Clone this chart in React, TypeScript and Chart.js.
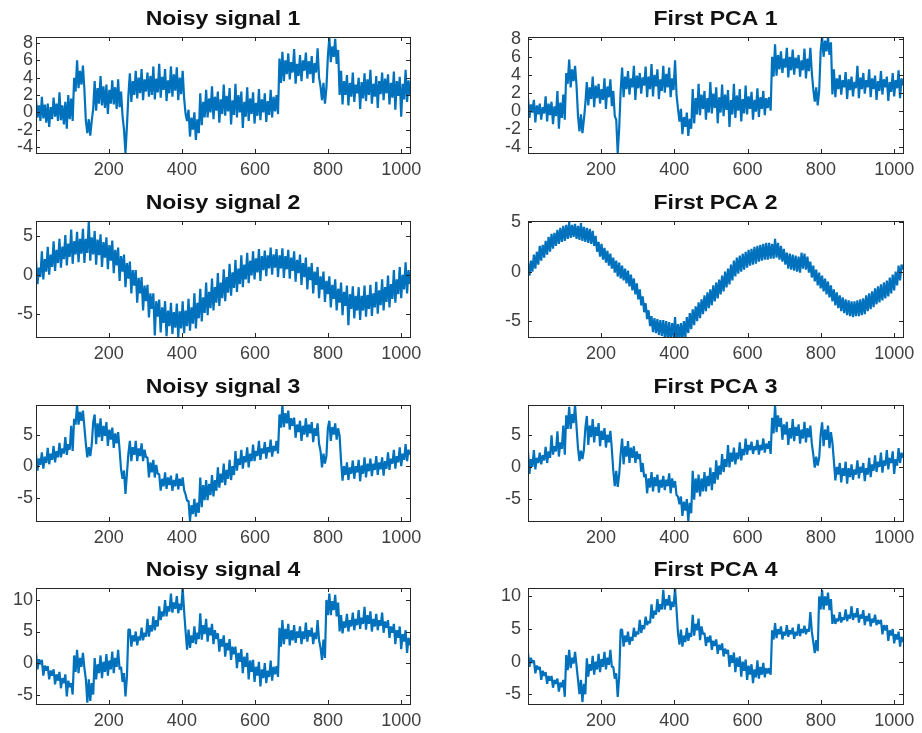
import React, { useEffect, useRef } from 'react';
import { Chart, registerables } from 'chart.js';

Chart.register(...registerables);

// ---------------- data ----------------
const xMin = 1;
const xMax = 1024;
const xTickValues = [200, 400, 600, 800, 1000];

const yTicksRow1 = [-4, -2, 0, 2, 4, 6, 8];
const yTicksRow2 = [-5, 0, 5];
const yTicksRow3 = [-5, 0, 5];
const yTicksRow4 = [-5, 0, 5, 10];

const titles = [
  'Noisy signal 1', 'First PCA 1',
  'Noisy signal 2', 'First PCA 2',
  'Noisy signal 3', 'First PCA 3',
  'Noisy signal 4', 'First PCA 4',
];

// noise-band samples read along x = 1..1024 (upper / lower excursions alternate)
const noisy1 = [
  1.5,-0.6,0.8,-1.0, 1.8,-0.7,0.9,-1.2, 1.0,-1.7,0.6,-0.8, 1.7,-0.5,1.0,-1.0,
  2.3,-0.9,0.8,-1.4, 1.2,-1.9,2.0,-0.8, 1.6,-1.0,4.0,2.4, 6.0,2.8,4.8,3.2,
  5.4,2.6,-1.0,-2.4, -0.8,-2.7,-1.0,0.4, 3.6,0.2,2.8,1.0, 4.2,0.8,3.0,0.5,
  3.2,-0.2,2.6,1.0, 3.7,0.9,2.9,0.4, 3.8,0.6,2.4,-0.4, -2.0,-4.7,-1.6,2.0,
  4.5,1.2,3.6,2.0, 4.8,1.6,4.0,2.2, 5.0,1.4,3.8,2.4, 4.6,1.8,4.2,2.0,
  5.3,1.5,3.9,2.3, 5.6,1.7,4.1,2.6, 5.0,1.3,3.7,2.2, 5.3,1.8,4.4,2.5,
  5.2,1.4,4.0,2.1, 4.8,1.6,-0.2,-1.0, 0.3,-2.8,-0.6,-2.0, 0.0,-3.2,-0.8,-2.4,
  2.2,-1.5,1.2,-0.6, 2.6,-0.6,1.6,0.0, 3.0,-0.8,1.8,0.2, 2.4,-1.2,1.5,-0.2,
  3.2,-0.4,1.9,0.1, 2.8,-1.4,1.4,-0.3, 3.3,-0.6,2.0,0.0, 2.4,-1.8,1.2,-0.5,
  2.9,-1.0,1.6,-0.2, 2.3,-1.3,1.1,-0.4, 2.7,-0.9,1.5,0.0, 2.2,-1.1,1.3,-0.3,
  2.6,-0.6,1.8,0.1, 2.0,-0.2,6.2,3.4, 7.0,3.6,6.0,4.4, 6.8,3.8,5.8,4.6,
  7.3,3.3,5.6,4.2, 6.6,3.6,6.0,4.8, 6.9,3.9,5.9,4.4, 6.5,3.4,5.7,4.6,
  7.4,4.0,3.0,1.4, 3.4,1.0,2.8,6.4, 8.7,5.8,7.6,6.4, 8.5,5.6,7.2,2.0,
  4.8,0.9,3.6,2.0, 4.3,0.8,3.4,1.8, 4.6,1.2,3.2,2.2, 4.0,0.4,3.5,1.6,
  4.5,1.3,3.8,2.0, 4.9,1.0,3.3,1.8, 4.2,0.5,3.6,2.1, 4.6,1.4,3.9,2.2,
  4.4,0.9,3.4,1.7, 4.7,0.3,3.6,1.9, 4.1,-0.5,3.3,1.5, 4.9,1.2,3.7,2.0,
];

const pca1 = [
  1.4,-0.8,0.7,-0.2, 1.2,-1.3,0.6,-0.4, 0.8,-1.0,0.4,-0.3, 1.6,-1.2,0.8,-0.5,
  1.0,-1.5,0.5,-0.6, 2.2,-2.0,0.9,-0.8, 1.8,-1.0,4.2,3.0, 5.7,2.6,4.6,3.3,
  5.0,2.8,-0.6,-2.3, -0.4,-2.5,-1.0,0.8, 3.2,0.6,2.6,1.3, 3.8,0.4,2.8,1.4,
  3.0,0.8,2.4,1.2, 3.6,0.2,2.7,1.5, 3.5,0.5,2.2,-0.6, -1.0,-4.7,-2.0,2.2,
  4.8,1.5,3.8,2.4, 4.4,1.8,3.6,2.6, 5.0,1.2,3.9,2.5, 4.2,1.9,3.7,2.8,
  4.9,1.5,3.8,2.4, 5.2,1.6,4.0,2.7, 4.6,1.3,3.5,2.2, 5.0,2.0,4.1,2.6,
  4.8,1.5,3.6,2.3, 5.6,1.8,0.2,-1.2, 0.2,-2.6,-0.7,-1.8, -0.2,-2.8,-0.9,-2.0,
  2.4,-1.4,1.4,-0.4, 3.0,-0.5,1.8,0.2, 2.2,-1.0,1.4,-0.2, 3.2,-0.3,1.9,0.3,
  2.6,-1.4,1.5,-0.2, 2.9,-0.6,1.8,0.1, 2.3,-1.8,1.2,-0.4, 3.0,-0.8,1.7,0.0,
  2.4,-1.2,1.3,-0.3, 2.8,-0.4,1.6,0.2, 2.1,-1.0,1.2,-0.1, 2.5,-0.7,1.5,0.2,
  2.2,-0.5,1.4,0.3, 1.5,0.0,6.0,3.8, 7.4,3.9,6.2,4.6, 6.6,4.2,5.8,4.8,
  7.0,3.7,6.0,4.5, 6.8,4.0,5.9,4.7, 6.2,3.8,5.6,4.5, 6.9,3.6,5.8,4.4,
  7.0,4.2,2.4,1.0, 2.6,0.6,2.2,6.6, 8.2,6.0,7.8,6.6, 8.2,6.2,7.6,1.8,
  4.6,1.5,3.6,2.4, 4.0,1.8,3.4,2.6, 4.3,1.3,3.5,2.3, 3.8,1.6,3.2,2.5,
  5.0,1.4,3.7,2.4, 4.2,1.9,3.4,2.6, 4.6,1.5,3.6,2.4, 3.9,1.2,3.3,2.2,
  4.4,1.8,3.5,2.6, 3.8,1.1,3.2,2.1, 4.2,1.6,3.4,2.5, 4.5,1.4,3.6,2.8,
];

const noisy2 = [
  1.9,-1.2,0.9,-0.3, 3.0,-0.6,2.0,0.4, 3.6,0.0,2.6,1.0, 4.3,0.5,3.2,1.5,
  4.6,0.9,3.6,2.0, 5.1,1.2,4.0,2.3, 5.8,1.4,4.3,2.6, 5.5,1.6,4.6,2.7,
  5.9,1.5,4.6,2.8, 6.9,1.8,4.8,2.6, 5.6,1.3,4.5,2.5, 5.2,1.0,4.2,2.2,
  4.8,0.7,3.8,1.8, 4.4,0.2,3.2,1.2, 3.5,-0.8,2.4,0.4, 2.6,-1.6,1.5,-0.5,
  1.7,-2.4,0.6,-1.4, 0.6,-3.6,-0.4,-2.4, -0.3,-4.6,-1.4,-3.4, -1.3,-5.5,-2.4,-4.4,
  -2.4,-7.8,-3.4,-5.4, -3.2,-7.4,-4.2,-6.2, -3.4,-7.9,-4.6,-6.6, -3.6,-7.6,-4.8,-6.8,
  -3.7,-8.0,-4.7,-6.9, -3.4,-7.5,-4.6,-6.6, -3.1,-7.2,-4.2,-6.3, -2.4,-6.9,-3.6,-5.6,
  -1.8,-6.0,-2.9,-4.9, -1.0,-5.2,-2.2,-4.3, -0.5,-4.6,-1.6,-3.6, 0.2,-4.0,-1.0,-3.0,
  0.7,-3.4,-0.3,-2.3, 1.4,-2.7,0.3,-1.7, 1.9,-2.2,0.8,-1.2, 2.5,-1.6,1.3,-0.6,
  2.8,-1.1,1.8,-0.1, 3.0,-0.6,2.1,0.3, 3.3,-0.8,2.4,0.6, 3.1,-0.2,2.5,0.8,
  3.5,0.0,2.6,0.9, 3.3,-0.3,2.5,0.8, 3.4,-0.4,2.4,0.7, 3.2,-0.5,2.2,0.5,
  3.0,-0.9,1.9,0.2, 2.6,-1.3,1.5,-0.3, 2.2,-1.9,1.0,-0.7, 1.5,-2.4,0.4,-1.3,
  1.0,-3.0,-0.2,-1.9, 0.4,-3.5,-0.8,-2.5, -0.2,-4.2,-1.3,-3.1, -0.6,-4.6,-1.8,-3.6,
  -1.0,-5.2,-2.2,-4.0, -1.4,-6.5,-2.5,-4.4, -1.5,-5.6,-2.7,-4.6, -1.6,-5.8,-2.7,-4.6,
  -1.4,-5.4,-2.6,-4.4, -1.3,-5.3,-2.4,-4.2, -0.9,-5.0,-2.0,-3.9, -0.6,-4.6,-1.6,-3.5,
  -0.1,-4.2,-1.2,-3.1, 0.6,-3.6,-0.6,-2.5, 1.0,-3.0,0.0,-1.9, 1.6,-2.4,0.6,-1.2,
];

const pca2 = [
  0.9,-0.4,1.1,0.0, 1.7,0.3,2.0,0.7, 2.6,1.1,2.7,1.4, 3.1,1.7,3.5,2.0,
  3.8,2.3,3.9,2.6, 4.2,2.8,4.4,3.0, 4.6,3.1,4.7,3.3, 5.0,3.4,4.7,3.5,
  4.8,3.3,4.6,3.2, 4.9,3.1,4.5,3.0, 4.4,2.9,4.3,2.8, 4.1,2.6,3.6,2.0,
  3.0,1.5,2.8,1.2, 2.4,0.9,2.1,0.6, 1.8,0.3,1.4,-0.1, 1.1,-0.5,0.9,-0.7,
  0.6,-0.9,0.3,-1.2, 0.1,-1.5,-0.3,-1.9, -0.7,-2.3,-1.2,-2.8, -1.8,-3.4,-2.5,-4.1,
  -3.2,-4.8,-3.9,-5.5, -4.5,-6.1,-4.7,-6.2, -4.8,-6.4,-4.9,-6.5, -4.9,-6.7,-5.0,-6.8,
  -5.1,-6.9,-5.2,-6.6, -4.6,-7.0,-5.3,-6.8, -5.2,-6.9,-5.0,-6.6, -4.6,-6.2,-4.2,-5.8,
  -3.8,-5.4,-3.5,-5.0, -3.1,-4.7,-2.8,-4.3, -2.4,-4.0,-2.1,-3.7, -1.8,-3.4,-1.4,-3.0,
  -1.1,-2.7,-0.8,-2.3, -0.4,-2.0,0.0,-1.6, 0.3,-1.3,0.7,-0.9, 1.1,-0.5,1.4,-0.2,
  1.6,0.0,1.8,0.2, 2.0,0.4,2.2,0.6, 2.3,0.7,2.5,0.8, 2.6,1.0,2.7,1.1,
  2.8,1.2,2.9,1.2, 2.9,1.3,2.8,1.3, 3.3,1.4,2.9,1.2, 2.6,1.0,2.3,0.7,
  1.9,0.3,1.8,0.2, 1.7,0.1,1.6,0.0, 1.5,-0.1,1.9,0.3, 1.8,0.2,1.5,-0.1,
  1.0,-0.6,0.6,-1.0, 0.2,-1.4,-0.1,-1.7, -0.4,-2.0,-0.7,-2.3, -1.0,-2.6,-1.4,-3.0,
  -1.8,-3.4,-2.1,-3.7, -2.4,-4.0,-2.6,-4.2, -2.8,-4.4,-2.9,-4.5, -3.0,-4.6,-3.0,-4.5,
  -2.9,-4.5,-2.8,-4.4, -2.7,-4.3,-2.4,-4.0, -2.2,-3.8,-2.0,-3.6, -1.7,-3.3,-1.5,-3.1,
  -1.3,-2.9,-1.1,-2.7, -0.9,-2.5,-0.6,-2.2, -0.3,-1.9,0.0,-1.4, 0.6,-0.9,0.7,0.2,
];

const noisy3 = [
  1.9,-0.7,1.2,0.2, 2.2,-0.4,1.5,0.5, 2.9,0.3,2.0,1.0, 3.2,0.6,2.4,1.4,
  3.7,1.4,2.8,2.0, 4.6,1.8,3.5,2.6, 6.4,2.4,7.5,6.6, 9.7,6.6,8.6,7.2,
  8.8,6.2,3.5,1.4, 3.0,1.6,3.4,7.0, 8.2,3.5,6.8,4.6, 7.6,4.0,6.4,4.8,
  7.0,3.2,5.8,4.2, 6.1,2.9,5.2,3.6, 5.4,2.6,-0.5,-2.0, -0.7,-4.4,-1.2,2.0,
  4.0,0.8,3.0,1.8, 4.0,0.8,2.8,1.6, 3.6,0.8,2.6,1.4, 1.4,-1.8,0.6,-1.0,
  1.0,-1.8,0.2,-1.2, -1.3,-3.9,-2.0,-3.2, -1.0,-3.6,-1.8,-3.0, -1.5,-3.9,-2.2,-3.2,
  -1.2,-3.7,-2.0,-3.1, -1.8,-3.8,-4.5,-5.5, -5.5,-8.7,-6.2,-7.6, -5.2,-8.0,-5.8,-7.4,
  -1.8,-6.5,-3.0,-5.4, -2.2,-5.4,-2.8,-4.6, -1.4,-4.8,-2.2,-3.9, -0.2,-3.4,-1.2,-2.6,
  0.4,-3.0,-0.6,-2.0, 1.0,-2.2,0.0,-1.4, 2.4,-0.7,1.2,0.2, 2.6,-0.4,1.6,0.6,
  3.0,-0.2,2.0,0.8, 3.4,0.8,2.4,1.6, 4.0,1.0,2.8,2.0, 3.8,1.2,3.0,2.2,
  4.2,1.5,3.2,2.4, 4.0,2.0,8.2,6.1, 9.7,6.2,8.4,6.8, 8.8,5.8,7.6,6.4,
  7.7,4.5,6.6,5.4, 7.2,4.0,6.4,5.0, 7.6,4.6,6.6,5.2, 7.0,3.8,6.0,4.8,
  6.8,3.5,2.4,-0.2, 2.0,0.4,1.6,6.0, 7.2,4.0,6.2,5.0, 6.8,4.2,6.0,4.8,
  0.8,-2.3,0.0,-1.4, 0.6,-2.2,-0.2,-1.2, 0.9,-2.0,0.0,-1.0, 1.0,-2.4,0.1,-1.2,
  1.4,-1.8,0.4,-0.8, 1.2,-1.6,0.4,-0.6, 1.6,-1.4,0.6,-0.5, 1.4,-1.5,0.8,-0.4,
  2.2,-0.6,1.2,0.4, 2.6,-0.4,1.6,0.6, 3.0,0.0,2.0,1.0, 3.5,0.8,2.6,1.8,
];

const pca3 = [
  2.4,-1.1,1.2,0.0, 2.6,-0.4,1.4,0.6, 2.2,0.4,1.8,1.0, 3.1,0.6,2.4,1.4,
  4.9,1.9,3.2,2.4, 5.5,1.6,3.8,2.8, 6.4,1.9,8.0,5.9, 9.3,5.9,8.2,6.8,
  9.6,6.2,2.9,0.9, 2.5,1.2,2.6,6.0, 7.9,3.4,6.4,4.6, 7.4,3.8,6.2,4.8,
  6.8,3.2,5.6,4.2, 6.0,3.0,5.0,3.8, 5.6,2.8,-0.6,-3.0, -0.6,-3.1,-1.2,2.0,
  4.4,0.4,3.2,1.6, 4.0,0.6,3.0,1.4, 3.2,0.6,2.4,1.2, 2.0,-0.8,0.6,-1.6,
  -1.1,-4.1,-1.8,-3.2, -0.8,-3.8,-1.6,-3.0, -1.2,-4.0,-2.0,-3.2, -1.4,-3.6,-2.0,-3.0,
  -1.0,-4.1,-1.8,-3.2, -2.2,-4.4,-4.6,-5.8, -4.6,-7.6,-5.4,-6.8, -5.0,-8.4,-5.6,-7.2,
  -0.6,-5.1,-1.8,-4.0, -1.2,-4.6,-1.8,-3.8, -0.8,-3.8,-1.4,-3.0, -0.1,-3.6,-0.8,-2.6,
  1.0,-2.0,0.2,-1.2, 2.0,-0.8,1.2,0.0, 3.4,-0.1,2.2,0.8, 3.0,0.4,2.2,1.2,
  3.8,1.0,2.8,1.8, 4.4,1.9,3.4,2.6, 3.9,2.0,3.2,2.6, 4.2,1.9,3.4,2.6,
  4.4,2.2,3.6,2.8, 4.0,2.0,7.6,5.2, 9.6,5.4,8.0,6.2, 7.6,4.2,6.6,5.0,
  7.0,3.4,6.0,4.4, 7.4,4.0,6.2,4.8, 6.6,3.6,5.8,4.4, 7.0,3.8,6.0,4.6,
  6.4,3.6,1.9,-0.1, 1.6,0.2,1.4,5.0, 6.9,3.2,5.8,4.2, 6.4,2.9,5.4,3.8,
  0.9,-2.1,0.0,-1.2, 0.6,-2.4,-0.2,-1.4, 0.8,-2.6,-0.2,-1.6, 0.4,-2.0,-0.4,-1.2,
  1.0,-1.8,0.0,-0.9, 0.6,-2.2,-0.2,-1.2, 1.4,-1.6,0.4,-0.6, 1.8,-0.8,0.8,0.0,
  2.2,-0.9,1.0,0.2, 2.6,-0.4,1.4,0.6, 2.4,-1.1,1.2,0.2, 2.9,0.6,2.2,1.4,
];

const noisy4 = [
  1.6,-1.0,0.6,-0.2, 0.5,-2.0,-0.4,-1.2, -0.5,-2.6,-1.2,-2.0, -1.0,-3.4,-1.8,-2.8,
  -1.4,-4.0,-2.4,-3.2, -1.8,-5.3,-2.8,-3.8, -3.2,-5.0,1.2,-1.4, 2.1,-1.6,0.8,-0.6,
  1.6,-0.8,-2.6,-6.3, -2.6,-6.0,-3.2,-5.0, 0.8,-2.6,-0.2,-1.6, 1.2,-2.4,0.2,-1.4,
  1.4,-2.0,0.4,-1.0, 1.8,-1.6,0.8,-0.6, 2.1,-1.0,-0.6,-3.0, -1.6,-5.3,-2.2,5.3,
  5.3,2.6,4.4,3.4, 5.0,2.8,4.2,3.6, 5.6,3.6,4.8,4.2, 7.0,4.2,6.0,5.0,
  7.4,5.2,6.8,5.8, 9.0,6.8,8.2,7.4, 10.0,7.4,9.0,8.2, 11.0,8.0,9.6,8.6,
  10.6,7.9,9.4,8.4, 11.9,8.2,5.0,2.1, 5.3,2.4,4.4,3.2, 5.8,3.0,4.8,3.8,
  7.9,3.7,6.0,4.6, 7.0,3.4,5.6,4.4, 6.2,3.0,5.2,3.8, 4.7,1.8,3.8,2.6,
  4.4,1.0,3.2,2.0, 3.8,0.5,2.6,1.4, 2.6,-0.8,1.6,0.2, 2.2,-1.6,1.0,-0.6,
  1.6,-2.6,0.4,-1.4, 0.5,-3.0,-0.6,-2.0, 0.2,-3.7,-1.0,-2.4, 0.0,-3.2,-1.2,-2.2,
  0.4,-2.8,-0.6,-1.8, -0.5,-2.2,5.6,2.6, 6.8,3.0,5.4,3.8, 6.2,2.8,5.2,3.6,
  6.0,3.2,5.0,4.0, 5.8,3.0,5.0,3.8, 6.4,3.4,5.2,4.2, 5.6,3.0,4.8,3.8,
  6.8,3.6,2.4,0.5, 3.7,0.8,10.0,7.6, 11.0,7.6,9.8,8.4, 10.8,7.4,9.6,5.0,
  7.6,4.7,6.6,5.6, 7.8,5.0,6.8,5.8, 8.0,5.2,7.0,6.0, 8.4,5.4,7.2,6.2,
  8.9,5.3,7.6,6.2, 8.2,5.0,7.0,5.8, 7.8,5.2,6.8,5.9, 8.0,4.8,6.6,5.6,
  6.8,4.0,5.8,4.8, 6.2,3.0,5.2,4.0, 5.8,2.2,4.6,3.4, 5.2,1.6,4.0,2.8,
];

const pca4 = [
  1.3,-0.8,0.6,-0.2, 0.2,-1.8,-0.6,-1.2, -0.8,-2.8,-1.4,-2.2, -1.6,-3.4,-2.2,-2.9,
  -2.2,-4.0,-2.8,-3.4, -2.6,-4.6,-3.2,-3.9, -2.8,-5.4,1.0,-1.3, 1.8,-1.0,0.6,-0.3,
  1.5,-0.6,-2.8,-5.0, -2.8,-6.2,-3.4,-5.0, 0.5,-2.3,-0.4,-1.4, 0.9,-2.0,0.0,-1.2,
  1.2,-1.6,0.4,-0.8, 1.5,-1.2,0.6,-0.5, 1.8,-0.8,-0.8,-2.6, -1.8,-5.4,-2.4,4.9,
  4.9,2.3,4.0,3.0, 4.6,2.6,3.8,3.2, 5.2,3.8,4.6,4.2, 6.4,4.4,5.6,5.0,
  6.9,5.6,6.2,5.9, 8.8,6.6,7.8,7.2, 9.6,7.6,8.8,8.0, 11.0,8.0,9.6,8.6,
  10.2,7.9,9.2,8.4, 11.3,8.0,4.4,2.6, 4.9,2.3,4.0,3.0, 5.2,3.2,4.4,3.8,
  7.2,4.0,5.8,4.8, 6.6,3.3,5.4,4.2, 4.4,2.4,3.8,3.0, 4.0,1.8,3.2,2.4,
  3.4,1.2,2.6,1.8, 2.8,0.8,2.0,1.2, 1.8,-0.8,1.0,-0.2, 1.4,-1.6,0.6,-0.8,
  0.8,-2.3,0.0,-1.4, 0.3,-2.8,-0.6,-2.0, -0.4,-3.3,-1.2,-2.4, 0.2,-2.6,-0.8,-2.0,
  -0.2,-2.4,-1.0,-1.8, -1.0,-2.0,4.8,3.4, 5.9,3.6,5.0,4.2, 5.4,3.4,4.6,4.0,
  5.6,3.8,4.8,4.2, 5.2,3.5,4.6,4.0, 5.8,3.9,5.0,4.4, 5.5,4.2,5.0,4.6,
  7.6,4.6,3.0,1.3, 3.3,1.6,10.0,8.0, 11.0,8.0,10.0,8.6, 10.6,7.9,9.6,5.8,
  7.2,5.8,6.6,6.2, 7.6,6.0,6.8,6.4, 8.0,6.2,7.2,6.6, 8.5,6.4,7.4,6.8,
  8.2,6.0,7.2,6.6, 7.9,5.6,7.0,6.2, 7.4,5.4,6.6,6.0, 7.2,5.6,6.4,5.8,
  6.4,4.2,5.6,4.8, 5.6,3.2,4.8,4.0, 5.0,2.8,4.2,3.4, 4.6,2.3,3.8,3.0,
];

const seriesList = [noisy1, pca1, noisy2, pca2, noisy3, pca3, noisy4, pca4];
const yLimits = [
  [-4.7, 8.7], [-4.7, 8.2],
  [-8.0, 6.9], [-6.6, 5.1],
  [-8.7, 9.7], [-8.4, 9.6],
  [-6.5, 11.9], [-6.5, 11.3],
];
const yTickSets = [yTicksRow1, yTicksRow1, yTicksRow2, yTicksRow2, yTicksRow3, yTicksRow3, yTicksRow4, yTicksRow4];

// ---------------- layout / style ----------------
const FONT = '"Liberation Sans", Arial, Helvetica, sans-serif';
const LINE_COLOR = '#0072BD';
const AXIS_COLOR = '#262626';
const TICK_COLOR = '#404040';
const ROW_TOPS = [37, 221, 405, 588];
const PLOT_H = 116;
const TITLE_H = 37;
const XAXIS_H = 29;
const COL_CANVAS_LEFT = [0, 461];
const COL_CANVAS_W = [460, 461];
const COL_PLOT_LEFT = [36, 528];
const COL_PLOT_RIGHT = [410, 903];
const COL_YPAD = [3, 7];

const decor = {
  id: 'decor',
  afterDatasetsDraw(chart: any, _args: any, opts: any) {
    const { ctx, chartArea: a, scales } = chart;
    ctx.save();
    ctx.strokeStyle = AXIS_COLOR;
    ctx.lineWidth = 1;
    const L = 4;
    ctx.beginPath();
    for (const t of scales.x.ticks) {
      const px = Math.round(scales.x.getPixelForValue(t.value)) + 0.5;
      ctx.moveTo(px, a.bottom);
      ctx.lineTo(px, a.bottom - L);
      ctx.moveTo(px, a.top);
      ctx.lineTo(px, a.top + L);
    }
    for (const t of scales.y.ticks) {
      const py = Math.round(scales.y.getPixelForValue(t.value)) + 0.5;
      ctx.moveTo(a.left, py);
      ctx.lineTo(a.left + L, py);
      ctx.moveTo(a.right, py);
      ctx.lineTo(a.right - L, py);
    }
    ctx.stroke();
    ctx.strokeRect(Math.round(a.left) + 0.5, Math.round(a.top) + 0.5,
      Math.round(a.right - a.left), Math.round(a.bottom - a.top));
    // title
    ctx.fillStyle = '#111';
    ctx.font = `bold 20px ${FONT}`;
    ctx.textAlign = 'center';
    ctx.textBaseline = 'middle';
    ctx.translate((a.left + a.right) / 2, 19);
    ctx.scale(1.15, 1);
    ctx.fillText(opts.text, 0, 0);
    ctx.restore();
  },
};

function Panel({ index }: { index: number }) {
  const ref = useRef<HTMLCanvasElement>(null);
  const col = index % 2;
  const row = Math.floor(index / 2);
  const canvasTop = ROW_TOPS[row] - TITLE_H;
  const canvasH = TITLE_H + PLOT_H + XAXIS_H;
  const canvasLeft = COL_CANVAS_LEFT[col];
  const canvasW = COL_CANVAS_W[col];

  useEffect(() => {
    const values = seriesList[index];
    const n = values.length;
    const data = values.map((v, i) => ({ x: xMin + (i * (xMax - xMin)) / (n - 1), y: v }));
    const yWidth = COL_PLOT_LEFT[col] - canvasLeft;
    const padRight = canvasLeft + canvasW - COL_PLOT_RIGHT[col];
    const [yMin, yMax] = yLimits[index];
    const yTicks = yTickSets[index];
    const chart = new Chart(ref.current as HTMLCanvasElement, {
      type: 'line',
      data: {
        datasets: [{
          data,
          borderColor: LINE_COLOR,
          borderWidth: 2.2,
          borderJoinStyle: 'bevel',
          borderCapStyle: 'butt',
          pointRadius: 0,
          tension: 0,
          fill: false,
        }],
      },
      options: {
        responsive: false,
        animation: false,
        devicePixelRatio: 1,
        events: [],
        layout: { padding: { left: 0, right: padRight, top: TITLE_H, bottom: 0 } },
        plugins: {
          legend: { display: false },
          tooltip: { enabled: false },
          decor: { text: titles[index] },
        } as any,
        scales: {
          x: {
            type: 'linear',
            min: xMin,
            max: xMax,
            grid: { display: false, drawTicks: false },
            border: { display: false },
            afterBuildTicks: (s: any) => { s.ticks = xTickValues.map((v) => ({ value: v })); },
            afterFit: (s: any) => { s.height = XAXIS_H; },
            ticks: {
              autoSkip: false,
              maxRotation: 0,
              minRotation: 0,
              padding: 6,
              color: TICK_COLOR,
              font: { family: FONT, size: 18 },
              callback: (v: any) => String(v),
            },
          },
          y: {
            type: 'linear',
            min: yMin,
            max: yMax,
            grid: { display: false, drawTicks: false },
            border: { display: false },
            afterBuildTicks: (s: any) => { s.ticks = yTicks.map((v) => ({ value: v })); },
            afterFit: (s: any) => { s.width = yWidth; },
            ticks: {
              autoSkip: false,
              padding: COL_YPAD[col],
              color: TICK_COLOR,
              font: { family: FONT, size: 18 },
              callback: (v: any) => String(v),
            },
          },
        },
      } as any,
      plugins: [decor as any],
    });
    return () => chart.destroy();
  }, [index]);

  return (
    <canvas
      ref={ref}
      width={canvasW}
      height={canvasH}
      style={{ position: 'absolute', left: canvasLeft, top: canvasTop, width: canvasW, height: canvasH }}
    />
  );
}

export default function App() {
  return (
    <div style={{ position: 'absolute', left: 0, top: 0, width: 922, height: 733, background: '#fff', overflow: 'hidden' }}>
      {titles.map((_, i) => (
        <Panel key={i} index={i} />
      ))}
    </div>
  );
}
